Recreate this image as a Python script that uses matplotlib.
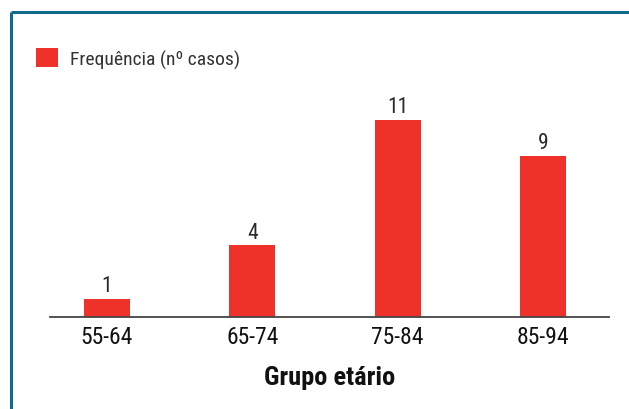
import matplotlib
matplotlib.use("Agg")
import matplotlib.pyplot as plt
from matplotlib.lines import Line2D

categories = ["55-64", "65-74", "75-84", "85-94"]
values = [1, 4, 11, 9]
series_label = "Frequência (nº casos)"
xlabel = "Grupo etário"

plt.rcParams['font.family'] = ['Roboto Condensed', 'DejaVu Sans']

W, H = 629, 410
fig = plt.figure(figsize=(W / 100, H / 100), dpi=100)
fig.patch.set_facecolor("white")

ax_left, ax_right = 50, 609
ax_bottom, ax_top = 318, 100
ax = fig.add_axes([ax_left / W, 1 - ax_bottom / H, (ax_right - ax_left) / W, (ax_bottom - ax_top) / H])

red = "#ee3129"
x = list(range(len(categories)))
ax.bar(x, values, width=0.3165, color=red, label=series_label, zorder=2)
ax.set_xlim(-0.392, 3.454)
ax.set_ylim(0, 12.18)

for xi, v in zip(x, values):
    ax.annotate(str(v), (xi, v), xytext=(0, 2), textcoords="offset points",
                ha="center", va="bottom", fontsize=15.5, color="#2a2a2a")

ax.set_xticks(x)
ax.set_xticklabels(categories, fontsize=17, color="#111111")
ax.tick_params(axis="x", length=0, pad=6)
ax.set_yticks([])
for s in ["top", "right", "left"]:
    ax.spines[s].set_visible(False)
ax.spines["bottom"].set_color("#444444")
ax.spines["bottom"].set_linewidth(1.3)
ax.set_xlabel(xlabel, fontsize=19, fontweight="bold", color="#111111", labelpad=12)

leg = ax.legend(loc="upper left", bbox_to_anchor=(36 / W, 1 - 49 / H), bbox_transform=fig.transFigure,
                frameon=False, fontsize=14, handlelength=1.15, handleheight=1.15,
                handletextpad=0.6, borderpad=0, borderaxespad=0)
for t in leg.get_texts():
    t.set_color("#333333")

border = "#0f6a8c"
fig.add_artist(Line2D([10.5 / W, 1], [1 - 12.5 / H, 1 - 12.5 / H], color=border, lw=2.2,
                      transform=fig.transFigure, solid_capstyle="butt"))
fig.add_artist(Line2D([10.5 / W, 10.5 / W], [1 - 12.5 / H, 0], color=border, lw=2.2,
                      transform=fig.transFigure, solid_capstyle="butt"))

fig.savefig("out.png", dpi=100)
